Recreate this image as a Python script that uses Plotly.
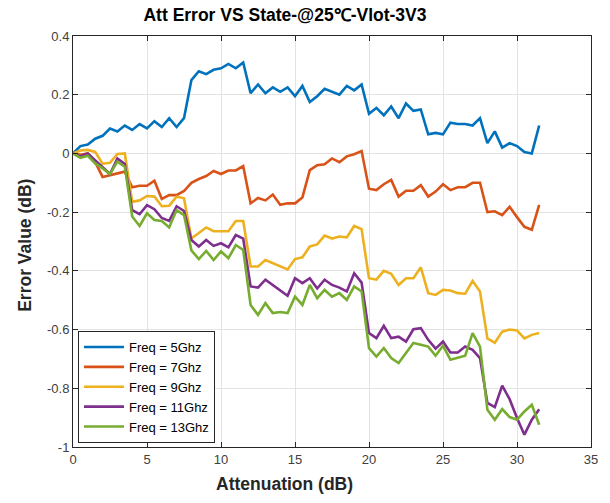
import plotly.graph_objects as go

attenuation = [0, 0.5, 1, 1.5, 2, 2.5, 3, 3.5, 4, 4.5, 5, 5.5, 6, 6.5, 7, 7.5,
               8, 8.5, 9, 9.5, 10, 10.5, 11, 11.5, 12, 12.5, 13, 13.5, 14, 14.5, 15, 15.5,
               16, 16.5, 17, 17.5, 18, 18.5, 19, 19.5, 20, 20.5, 21, 21.5, 22, 22.5, 23, 23.5,
               24, 24.5, 25, 25.5, 26, 26.5, 27, 27.5, 28, 28.5, 29, 29.5, 30, 30.5, 31, 31.5]

err_5ghz = [0, 0.025, 0.03, 0.05, 0.06, 0.085, 0.075, 0.095, 0.08, 0.1, 0.085, 0.11, 0.09, 0.12, 0.09, 0.12,
            0.25, 0.28, 0.27, 0.285, 0.29, 0.305, 0.29, 0.31,
            0.205, 0.235, 0.205, 0.225, 0.21, 0.225, 0.195, 0.23,
            0.175, 0.195, 0.22, 0.21, 0.2, 0.23, 0.215, 0.235,
            0.135, 0.155, 0.13, 0.16, 0.12, 0.17, 0.145, 0.15,
            0.065, 0.07, 0.065, 0.105, 0.1, 0.1, 0.095, 0.12,
            0.035, 0.075, 0.02, 0.035, 0.025, 0.005, 0.0, 0.095]

err_7ghz = [0, -0.005, 0.0, -0.03, -0.08, -0.074, -0.068, -0.062,
            -0.115, -0.11, -0.11, -0.093, -0.155, -0.142, -0.142, -0.128,
            -0.1, -0.087, -0.077, -0.06, -0.07, -0.058, -0.058, -0.043,
            -0.17, -0.152, -0.16, -0.14, -0.175, -0.17, -0.17, -0.15,
            -0.057, -0.04, -0.037, -0.017, -0.03, -0.01, -0.003, 0.008,
            -0.12, -0.125, -0.105, -0.09, -0.147, -0.127, -0.127, -0.108,
            -0.147, -0.13, -0.105, -0.125, -0.115, -0.115, -0.1, -0.1,
            -0.2, -0.197, -0.21, -0.182, -0.217, -0.25, -0.26, -0.175]

err_9ghz = [0, 0.01, 0.012, 0.005, -0.035, -0.032, -0.002, 0.0,
            -0.165, -0.16, -0.145, -0.147, -0.18, -0.178, -0.147, -0.153,
            -0.29, -0.272, -0.252, -0.265, -0.265, -0.265, -0.23, -0.23,
            -0.385, -0.385, -0.363, -0.374, -0.385, -0.395, -0.36, -0.354,
            -0.317, -0.31, -0.28, -0.29, -0.283, -0.286, -0.247, -0.258,
            -0.425, -0.43, -0.4, -0.41, -0.448, -0.425, -0.425, -0.388,
            -0.476, -0.482, -0.465, -0.467, -0.476, -0.478, -0.434, -0.47,
            -0.63, -0.645, -0.607, -0.6, -0.603, -0.63, -0.618, -0.612]

err_11ghz = [0, -0.01, 0.0, -0.023, -0.045, -0.07, -0.017, -0.036,
             -0.193, -0.207, -0.176, -0.19, -0.22, -0.23, -0.18, -0.196,
             -0.295, -0.317, -0.295, -0.315, -0.306, -0.32, -0.278, -0.29,
             -0.453, -0.457, -0.43, -0.448, -0.465, -0.485, -0.425, -0.442,
             -0.425, -0.46, -0.43, -0.448, -0.457, -0.47, -0.408, -0.44,
             -0.612, -0.629, -0.587, -0.629, -0.624, -0.641, -0.599, -0.595,
             -0.635, -0.665, -0.641, -0.678, -0.678, -0.658, -0.669, -0.697,
             -0.85, -0.864, -0.791, -0.837, -0.901, -0.958, -0.907, -0.871]

err_13ghz = [0, -0.015, -0.008, -0.034, -0.051, -0.07, -0.028, -0.045,
             -0.215, -0.247, -0.204, -0.227, -0.23, -0.252, -0.193, -0.21,
             -0.33, -0.36, -0.332, -0.363, -0.334, -0.357, -0.312, -0.329,
             -0.516, -0.55, -0.51, -0.544, -0.54, -0.544, -0.488, -0.516,
             -0.448, -0.493, -0.465, -0.488, -0.476, -0.499, -0.453, -0.47,
             -0.663, -0.692, -0.663, -0.697, -0.714, -0.68, -0.646, -0.652,
             -0.658, -0.689, -0.655, -0.703, -0.697, -0.689, -0.612, -0.658,
             -0.873, -0.907, -0.871, -0.898, -0.907, -0.879, -0.856, -0.924]

series_names = ["Freq = 5Ghz", "Freq = 7Ghz", "Freq = 9Ghz", "Freq = 11Ghz", "Freq = 13Ghz"]
series_values = [err_5ghz, err_7ghz, err_9ghz, err_11ghz, err_13ghz]
colors = ["#0072BD", "#D95319", "#EDB120", "#7E2F8E", "#77AC30"]

x_ticks = [0, 5, 10, 15, 20, 25, 30, 35]
y_ticks = [0.4, 0.2, 0, -0.2, -0.4, -0.6, -0.8, -1]
y_tick_labels = ["0.4", "0.2", "0", "-0.2", "-0.4", "-0.6", "-0.8", "-1"]

FONT = "Arial, Liberation Sans, sans-serif"
AX = "#262626"

W, H = 610, 503
ML, MR, MT, MB = 73, 17, 36, 56
PW, PH = W - ML - MR, H - MT - MB

fig = go.Figure()
for name, vals, c in zip(series_names, series_values, colors):
    fig.add_trace(go.Scatter(x=attenuation, y=vals, mode="lines", name=name,
                             line=dict(color=c, width=2.6)))

axis_common = dict(showline=True, linecolor=AX, linewidth=1, mirror="ticks",
                   ticks="inside", ticklen=5, tickcolor=AX,
                   showgrid=True, gridcolor="#E3E3E3", gridwidth=1,
                   zeroline=False, tickfont=dict(family=FONT, size=13, color="#404040"))

fig.update_layout(
    width=W, height=H,
    margin=dict(l=ML, r=MR, t=MT, b=MB),
    paper_bgcolor="white", plot_bgcolor="white",
    font=dict(family=FONT, color=AX),
    title=dict(text="<b>Att Error VS State-@25℃-Vlot-3V3</b>", x=285 / W, xanchor="center",
               y=1 - 14.5 / H, yanchor="middle", font=dict(family=FONT, size=17.5, color="black")),
    xaxis=dict(range=[0, 35], tickvals=x_ticks, **axis_common),
    yaxis=dict(range=[-1, 0.4], tickvals=y_ticks, ticktext=y_tick_labels, **axis_common),
    legend=dict(x=(78 - 73) / PW, y=(447 - 443) / PH, xanchor="left", yanchor="bottom",
                bgcolor="white", bordercolor=AX, borderwidth=1,
                font=dict(family=FONT, size=13, color="black"),
                tracegroupgap=0, itemwidth=40),
    showlegend=True,
)

fig.add_annotation(text="<b>Attenuation (dB)</b>", xref="paper", yref="paper",
                   x=(285 - ML) / PW, y=-(484 - (H - MB)) / PH, xanchor="center", yanchor="middle",
                   showarrow=False, font=dict(family=FONT, size=17.5, color=AX))
fig.add_annotation(text="<b>Error Value (dB)</b>", xref="paper", yref="paper",
                   x=-(ML - 24) / PW, y=0.49, xanchor="center", yanchor="middle", textangle=-90,
                   showarrow=False, font=dict(family=FONT, size=17.5, color=AX))

fig.write_html("out.html",
               config={"displayModeBar": False},
               post_script="document.body.style.margin='0';document.body.style.overflow='hidden';")
